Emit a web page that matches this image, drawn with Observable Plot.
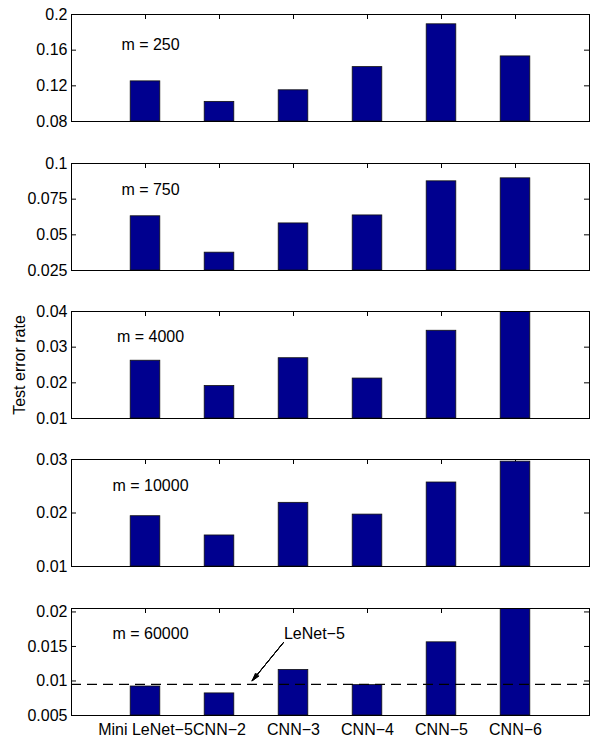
<!DOCTYPE html>
<html><head><meta charset="utf-8">
<script src="https://cdn.jsdelivr.net/npm/d3@7"></script>
<script src="https://cdn.jsdelivr.net/npm/@observablehq/plot@0.6"></script>
<style>
html,body{margin:0;padding:0;background:#fff;}
#chart{width:592px;}
#chart svg{display:block;}
</style></head><body><div id="chart"></div>
<script>
// ---- data ----
const categories = ["Mini LeNet−5", "CNN−2", "CNN−3", "CNN−4", "CNN−5", "CNN−6"];
const sampleSizes = [250, 750, 4000, 10000, 60000];
const err250   = [0.125, 0.102, 0.115, 0.141, 0.189, 0.153];
const err750   = [0.063, 0.0375, 0.058, 0.0636, 0.0875, 0.0896];
const err4000  = [0.0262, 0.0191, 0.0269, 0.0212, 0.0346, 0.04];
const err10000 = [0.0194, 0.0158, 0.0219, 0.0197, 0.0257, 0.0296];
const err60000 = [0.0092, 0.0082, 0.0116, 0.0094, 0.0156, 0.0205];
const yTicks250   = [0.08, 0.12, 0.16, 0.2];
const yTicks750   = [0.025, 0.05, 0.075, 0.1];
const yTicks4000  = [0.01, 0.02, 0.03, 0.04];
const yTicks10000 = [0.01, 0.02, 0.03];
const yTicks60000 = [0.005, 0.01, 0.015, 0.02];
const yLimits = [[0.08, 0.2], [0.025, 0.1], [0.01, 0.04], [0.01, 0.03], [0.005, 0.0205]];
const lenet5Error = 0.0095;
const lenet5Label = "LeNet−5";
const lenet5LabelAt = [{x: 2.87, y: 0.0168}];
const lenet5Arrow = [{x1: 2.865, y1: 0.01558, x2: 2.442, y2: 0.01003}];
const yLabel = "Test error rate";

// ---- layout / style ----
const series = [err250, err750, err4000, err10000, err60000];
const tickSets = [yTicks250, yTicks750, yTicks4000, yTicks10000, yTicks60000];
const W = 592, ML = 71, MR = 3, FH = 107, TICK = 5;
const FW = W - ML - MR;
const layout = [
  {height: 148, top: 14}, {height: 148, top: 15}, {height: 148, top: 15},
  {height: 148, top: 15}, {height: 145, top: 16}
];
const labelDy = [24, 20, 19, 20, 19];
const barFill = "#00008F";
const positions = categories.map((c, i) => i + 1);
const style = {fontFamily: "'Liberation Sans', Arial, sans-serif", fontSize: "16px", color: "black", background: "white", overflow: "visible"};

const chart = document.getElementById("chart");

series.forEach((vals, k) => {
  const [lo, hi] = yLimits[k];
  const ticks = tickSets[k];
  const data = categories.map((c, i) => ({pos: i + 1, name: c, value: vals[i]}));
  const last = k === series.length - 1;
  const marks = [
    Plot.tickY(ticks, {y: d => d, insetRight: FW - TICK, stroke: "black"}),
    Plot.tickY(ticks, {y: d => d, insetLeft: FW - TICK, stroke: "black"}),
    Plot.tickX(positions, {x: d => d, insetBottom: FH - TICK, stroke: "black"}),
    Plot.tickX(positions, {x: d => d, insetTop: FH - TICK, stroke: "black"}),
    Plot.rectY(data, {x1: d => d.pos - 0.2, x2: d => d.pos + 0.2, y1: lo, y2: "value",
      fill: barFill, stroke: "#111", strokeWidth: 0.8, clip: true}),
    Plot.axisY({ticks, tickSize: 0, tickPadding: 4, tickFormat: d => String(d), label: null, fontSize: 16}),
    Plot.text([`m = ${sampleSizes[k]}`], {frameAnchor: "top-left", dx: 79, dy: labelDy[k], textAnchor: "middle", fontSize: 16})
  ];
  if (k === 2) {
    marks.push(Plot.text([yLabel], {frameAnchor: "left", rotate: -90, dx: -52, textAnchor: "middle", fontSize: 16}));
  }
  if (last) {
    marks.push(Plot.ruleY([lenet5Error], {stroke: "black", strokeWidth: 1.2, strokeDasharray: "10,6"}));
    [8, 16, 24, 32].forEach(a => {
      marks.push(Plot.arrow(lenet5Arrow, {x1: "x1", y1: "y1", x2: "x2", y2: "y2",
        stroke: "black", strokeWidth: 1, headLength: 12, headAngle: a}));
    });
    marks.push(Plot.text(lenet5LabelAt, {x: "x", y: "y", text: () => lenet5Label, textAnchor: "start", fontSize: 16}));
    marks.push(Plot.axisX({ticks: positions, tickFormat: i => categories[i - 1], tickSize: 0, tickPadding: 8, label: null, fontSize: 16}));
  }
  marks.push(Plot.frame({stroke: "black", strokeWidth: 1}));
  const svg = Plot.plot({
    width: W,
    height: layout[k].height,
    marginLeft: ML,
    marginRight: MR,
    marginTop: layout[k].top,
    marginBottom: layout[k].height - layout[k].top - FH,
    style,
    x: {type: "linear", domain: [0, 7], ...(last ? {} : {axis: null})},
    y: {domain: [lo, hi]},
    marks
  });
  chart.appendChild(svg);
});
</script>
</body></html>
